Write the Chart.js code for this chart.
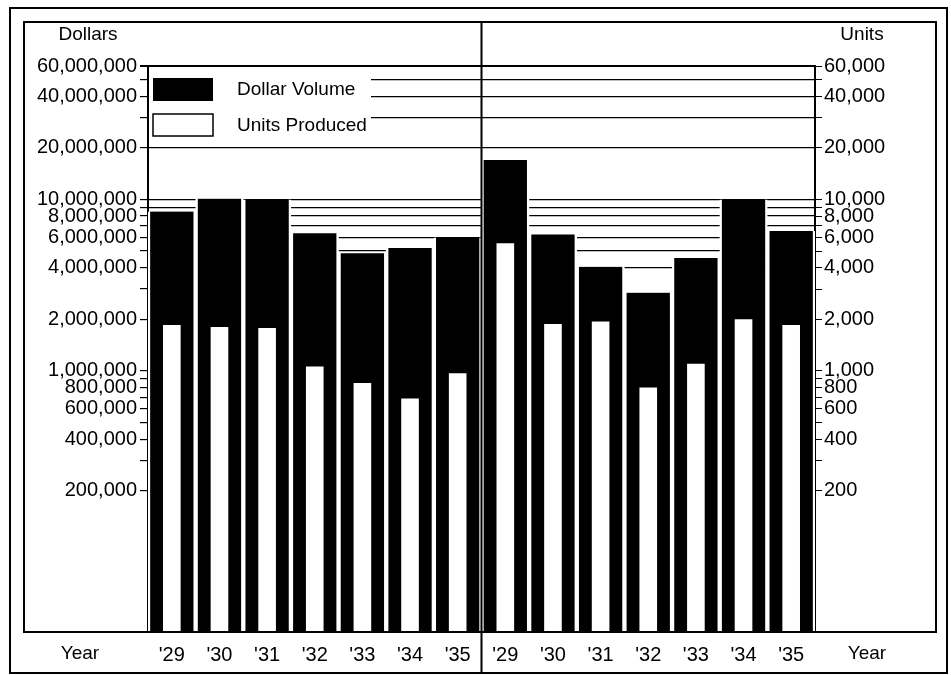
<!DOCTYPE html>
<html>
<head>
<meta charset="utf-8">
<script src="https://cdn.jsdelivr.net/npm/chart.js@4.4.1/dist/chart.umd.min.js"></script>
<style>
  html, body { margin: 0; padding: 0; background: #fff; }
</style>
</head>
<body>
<canvas id="chart" width="951" height="675"></canvas>
<script>
// Years, two panels of '29 - '35
var years = ["'29", "'30", "'31", "'32", "'33", "'34", "'35",
             "'29", "'30", "'31", "'32", "'33", "'34", "'35"];

// Dollar volume (left axis)
var dollarVolume = [8500000, 10100000, 10000000, 6350000, 4850000, 5200000, 6000000,
                    17000000, 6250000, 4050000, 2860000, 4550000, 10000000, 6540000];

// Units produced (right axis)
var unitsProduced = [1850, 1800, 1780, 1060, 850, 690, 970,
                     5560, 1880, 1940, 800, 1100, 2000, 1850];

// Tick marks on the dollar axis, and the ones that carry a label
var dollarTicks = [60000000, 50000000, 40000000, 30000000, 20000000, 10000000, 9000000,
                   8000000, 7000000, 6000000, 5000000, 4000000, 3000000, 2000000, 1000000,
                   900000, 800000, 700000, 600000, 500000, 400000, 300000, 200000];
var dollarLabels = [60000000, 40000000, 20000000, 10000000, 8000000, 6000000, 4000000,
                    2000000, 1000000, 800000, 600000, 400000, 200000];

// Same for the units axis
var unitTicks = [60000, 50000, 40000, 30000, 20000, 10000, 9000, 8000, 7000, 6000, 5000,
                 4000, 3000, 2000, 1000, 900, 800, 700, 600, 500, 400, 300, 200];
var unitLabels = [60000, 40000, 20000, 10000, 8000, 6000, 4000, 2000, 1000, 800, 600, 400, 200];

var black = "#000000";
var white = "#ffffff";
var font = "Liberation Sans";

Chart.defaults.font.family = font;
Chart.defaults.color = black;

// Frames, divider and the loose texts
var framePlugin = {
  id: "frames",
  afterDraw(chart) {
    let ctx = chart.ctx;
    let area = chart.chartArea;
    let mid = chart.scales.x.getPixelForValue(6.5);

    ctx.save();
    ctx.strokeStyle = black;
    ctx.lineWidth = 2;
    ctx.strokeRect(10, 8, 937, 665);
    ctx.strokeRect(24, 22, 912, area.bottom - 22);

    ctx.beginPath();
    ctx.moveTo(mid, 22);
    ctx.lineTo(mid, 673);
    ctx.stroke();

    ctx.fillStyle = black;
    ctx.font = "19px '" + font + "'";
    ctx.textAlign = "center";
    ctx.textBaseline = "middle";
    ctx.fillText("Dollars", area.left - 60, area.top - 31);
    ctx.fillText("Units", area.right + 47, area.top - 31);
    ctx.fillText("Year", 80, area.bottom + 22);
    ctx.fillText("Year", area.right + 52, area.bottom + 22);
    ctx.restore();
  },
};

// Legend in the upper left corner of the plot
var legendPlugin = {
  id: "boxLegend",
  afterDatasetsDraw(chart) {
    let ctx = chart.ctx;
    let area = chart.chartArea;
    let sets = chart.data.datasets;
    let x = area.left + 5;
    let y = area.top + 12;

    ctx.save();
    ctx.fillStyle = white;
    ctx.fillRect(area.left + 1, area.top + 4, 222, 70);

    ctx.fillStyle = black;
    ctx.fillRect(x, y, 60, 23);

    ctx.fillStyle = white;
    ctx.fillRect(x, y + 36, 60, 22);
    ctx.strokeStyle = black;
    ctx.lineWidth = 1.5;
    ctx.strokeRect(x, y + 36, 60, 22);

    ctx.fillStyle = black;
    ctx.font = "19px '" + font + "'";
    ctx.textAlign = "left";
    ctx.textBaseline = "middle";
    ctx.fillText(sets[0].label, x + 84, y + 12);
    ctx.fillText(sets[1].label, x + 84, y + 48);
    ctx.restore();
  },
};

const ctx = document.getElementById("chart");

new Chart(ctx, {
  type: "bar",
  data: {
    labels: years,
    datasets: [
      {
        label: "Dollar Volume",
        data: dollarVolume,
        yAxisID: "y",
        backgroundColor: black,
        borderColor: white,
        borderWidth: { left: 2.5, right: 2.5, top: 0, bottom: 0 },
        borderSkipped: false,
        barPercentage: 1,
        categoryPercentage: 1,
        grouped: false,
        order: 2,
      },
      {
        label: "Units Produced",
        data: unitsProduced,
        yAxisID: "y2",
        backgroundColor: white,
        borderWidth: 0,
        barPercentage: 0.37,
        categoryPercentage: 1,
        grouped: false,
        order: 1,
      },
    ],
  },
  options: {
    responsive: false,
    animation: false,
    devicePixelRatio: 1,
    layout: {
      padding: { top: 66, left: 0, right: 0, bottom: 0 },
    },
    plugins: {
      legend: { display: false },
      tooltip: { enabled: false },
    },
    scales: {
      x: {
        type: "category",
        offset: true,
        grid: { display: false },
        border: { display: true, color: black, width: 2 },
        ticks: {
          autoSkip: false,
          maxRotation: 0,
          padding: 3,
          font: { size: 20 },
        },
        afterFit: (scale) => {
          scale.height = 43;
        },
      },
      y: {
        type: "logarithmic",
        position: "left",
        min: 30000,
        max: 60000000,
        afterBuildTicks: (scale) => {
          scale.ticks = dollarTicks.map((v) => ({ value: v }));
        },
        afterFit: (scale) => {
          scale.width = 148;
        },
        grid: {
          color: (c) => (c.tick && c.tick.value >= 4000000 ? black : "rgba(0,0,0,0)"),
          lineWidth: (c) => (c.tick && c.tick.value == 60000000 ? 2 : 1.2),
          tickColor: black,
          tickLength: 8,
        },
        border: { display: true, color: black, width: 2 },
        ticks: {
          autoSkip: false,
          padding: 3,
          font: { size: 20 },
          callback: (v) => (dollarLabels.includes(v) ? v.toLocaleString("en-US") : ""),
        },
      },
      y2: {
        type: "logarithmic",
        position: "right",
        min: 30,
        max: 60000,
        afterBuildTicks: (scale) => {
          scale.ticks = unitTicks.map((v) => ({ value: v }));
        },
        afterFit: (scale) => {
          scale.width = 136;
        },
        grid: {
          drawOnChartArea: false,
          tickColor: black,
          tickLength: 7,
        },
        border: { display: true, color: black, width: 2 },
        ticks: {
          autoSkip: false,
          padding: 2,
          font: { size: 20 },
          callback: (v) => (unitLabels.includes(v) ? v.toLocaleString("en-US") : ""),
        },
      },
    },
  },
  plugins: [legendPlugin, framePlugin],
});
</script>
</body>
</html>
